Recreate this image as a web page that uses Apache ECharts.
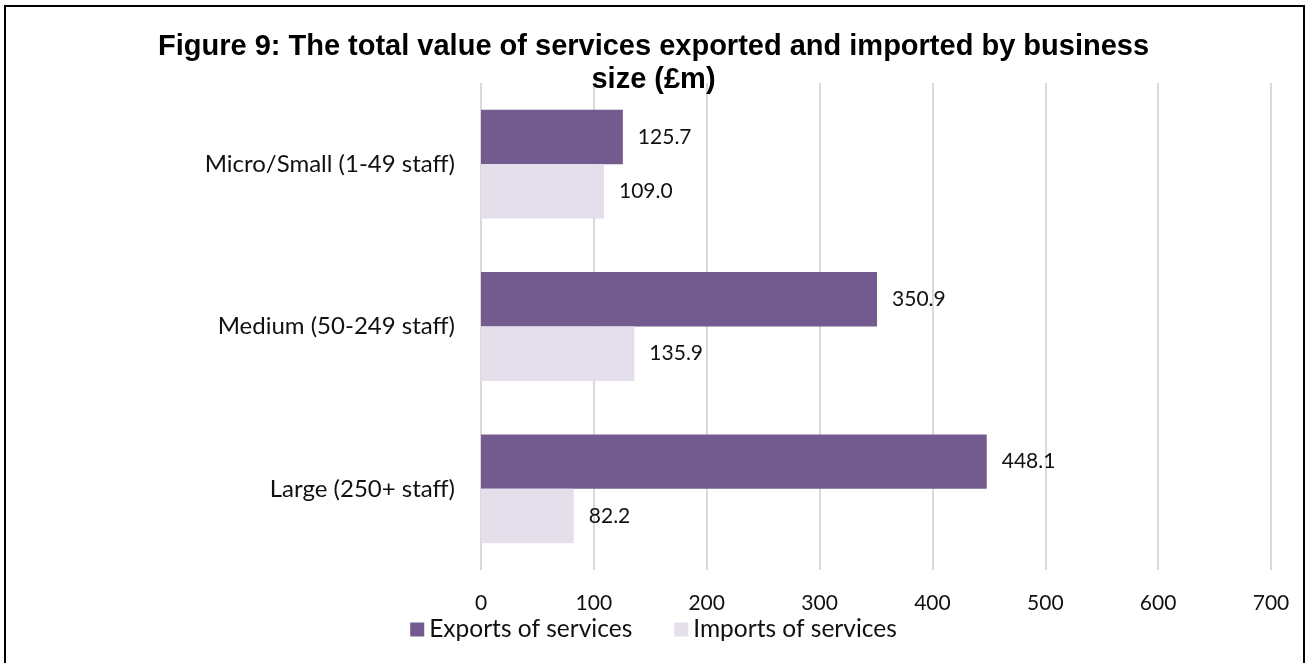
<!DOCTYPE html>
<html>
<head>
<meta charset="utf-8">
<title>Figure 9</title>
<script src="https://cdn.jsdelivr.net/npm/echarts@6/dist/echarts.min.js"></script>
<style>
  html, body { margin: 0; padding: 0; background: #fff; }
  #chart { width: 1307px; height: 663px; }
</style>
</head>
<body>
<div id="chart"></div>
<script>
var categories = ['Micro/Small (1-49 staff)', 'Medium (50-249 staff)', 'Large (250+ staff)'];
var exportsData = [125.7, 350.9, 448.1];
var importsData = [109.0, 135.9, 82.2];
var seriesNames = ['Exports of services', 'Imports of services'];

var chart = echarts.init(document.getElementById('chart'));

var labelStyle = {
    show: true,
    position: 'right',
    distance: 15,
    color: '#111',
    fontFamily: 'Lato',
    fontSize: 21,
    formatter: function (p) { return p.value.toFixed(1); }
};

var option = {
    backgroundColor: '#fff',
    animation: false,
    title: {
        text: 'Figure 9: The total value of services exported and imported by business\nsize (£m)',
        left: 'center',
        top: 25,
        textStyle: {
            fontFamily: 'Liberation Sans',
            fontWeight: 'bold',
            fontSize: 29,
            lineHeight: 33,
            color: '#000'
        }
    },
    // frame round the chart
    graphic: [{
        type: 'rect',
        shape: { x: 5, y: 6, width: 1299, height: 700 },
        style: { fill: 'none', stroke: '#000', lineWidth: 2 },
        silent: true
    }],
    legend: {
        data: seriesNames,
        top: 612,
        left: 'center',
        itemWidth: 14,
        itemHeight: 14,
        itemGap: 42,
        icon: 'rect',
        textStyle: { fontFamily: 'Lato', fontSize: 24.5, color: '#111' }
    },
    grid: {
        left: 481,
        right: 36,
        top: 83,
        bottom: 93,
        containLabel: false
    },
    xAxis: {
        type: 'value',
        min: 0,
        max: 700,
        interval: 100,
        axisLine: { show: false },
        axisTick: { show: false },
        axisLabel: { fontFamily: 'Lato', fontSize: 21, color: '#111', margin: 23 },
        splitLine: { lineStyle: { color: '#d9d9d9', width: 2 } }
    },
    yAxis: {
        type: 'category',
        data: categories,
        inverse: true,
        axisLine: { show: false },
        axisTick: { show: false },
        axisLabel: { fontFamily: 'Lato', fontSize: 24, color: '#111', margin: 26 }
    },
    series: [{
        name: seriesNames[0],
        type: 'bar',
        data: exportsData,
        barGap: '0%',
        barCategoryGap: '33%',
        itemStyle: { color: '#735a8f' },
        label: labelStyle
    }, {
        name: seriesNames[1],
        type: 'bar',
        data: importsData,
        barGap: '0%',
        barCategoryGap: '33%',
        itemStyle: { color: '#e5dfec' },
        label: labelStyle
    }]
};

chart.setOption(option);
</script>
</body>
</html>
